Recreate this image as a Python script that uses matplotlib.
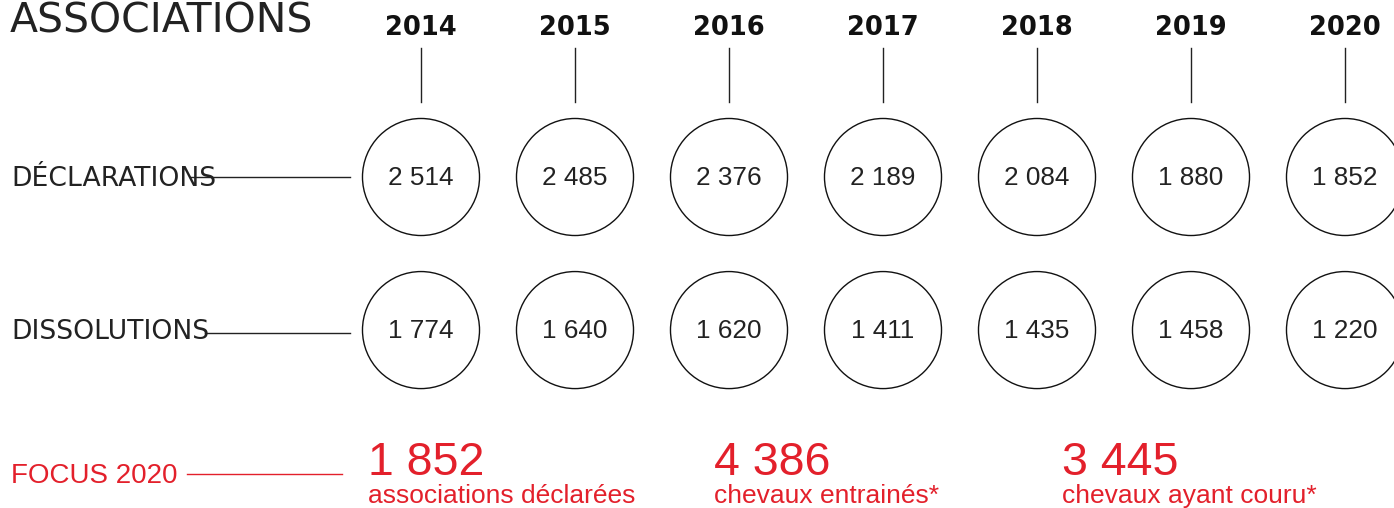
import matplotlib.pyplot as plt
from matplotlib.patches import Circle

# données
annees = ['2014', '2015', '2016', '2017', '2018', '2019', '2020']
declarations = [2514, 2485, 2376, 2189, 2084, 1880, 1852]
dissolutions = [1774, 1640, 1620, 1411, 1435, 1458, 1220]
lignes = ['DÉCLARATIONS', 'DISSOLUTIONS']
focus_valeurs = [1852, 4386, 3445]
focus_textes = ['associations déclarées', 'chevaux entrainés*', 'chevaux ayant couru*']

rouge = '#e3202b'
gris = '#222222'


def fmt(v):
    # séparateur de milliers avec espace
    return f'{v:,}'.replace(',', ' ')


fig = plt.figure(figsize=(13.94, 5.08), dpi=100)
ax = fig.add_axes([0, 0, 1, 1])
# 1 unité = 154 px, colonne 0 à x=421 px, ligne 0 à y=177 px
ax.set_xlim(-421 / 154, (1394 - 421) / 154)
ax.set_ylim((508 - 177) / 154, -177 / 154)
ax.set_aspect('equal')
ax.axis('off')

# titre
ax.text(-411 / 154, (33 - 177) / 154, 'ASSOCIATIONS', fontsize=29.5, color=gris,
        family='DejaVu Sans', va='baseline', ha='left')

# années et traits verticaux
for i, a in enumerate(annees):
    ax.text(i, (35 - 177) / 154, a, fontsize=18.5, fontweight='bold', family='DejaVu Sans',
            ha='center', va='baseline', color='#111111')
    ax.plot([i, i], [-0.838, -0.487], color=gris, lw=1)

# cercles
for r, serie in enumerate([declarations, dissolutions]):
    for i, v in enumerate(serie):
        ax.add_patch(Circle((i, r * 0.994), 0.38, fill=False, ec='#111111', lw=1))
        ax.text(i, r * 0.994 + 0.005, fmt(v), fontsize=18.8, family='Liberation Sans',
                ha='center', va='center', color=gris)

# libellés des lignes
debut_trait = [190, 205]
for r, lab in enumerate(lignes):
    y = r * 0.994
    ax.text(-410 / 154, y + 0.015, lab, fontsize=19.2, family='DejaVu Sans',
            ha='left', va='center', color=gris)
    ax.plot([(debut_trait[r] - 421) / 154, (350 - 421) / 154],
            [y + r * 0.02, y + r * 0.02], color=gris, lw=1)

# focus 2020
yf = (474 - 177) / 154
ax.text(-410 / 154, (483 - 177) / 154, 'FOCUS 2020', fontsize=20, family='Liberation Sans',
        ha='left', va='baseline', color=rouge)
ax.plot([(187 - 421) / 154, (342 - 421) / 154], [yf, yf], color=rouge, lw=1)

x_focus = [368, 714, 1062]
for xf, v, t in zip(x_focus, focus_valeurs, focus_textes):
    x = (xf - 421) / 154
    ax.text(x, (475 - 177) / 154, fmt(v), fontsize=33.5, family='Liberation Sans',
            ha='left', va='baseline', color=rouge)
    ax.text(x, (503 - 177) / 154, t, fontsize=19, family='Liberation Sans',
            ha='left', va='baseline', color=rouge)

plt.savefig('out.png', dpi=100)
